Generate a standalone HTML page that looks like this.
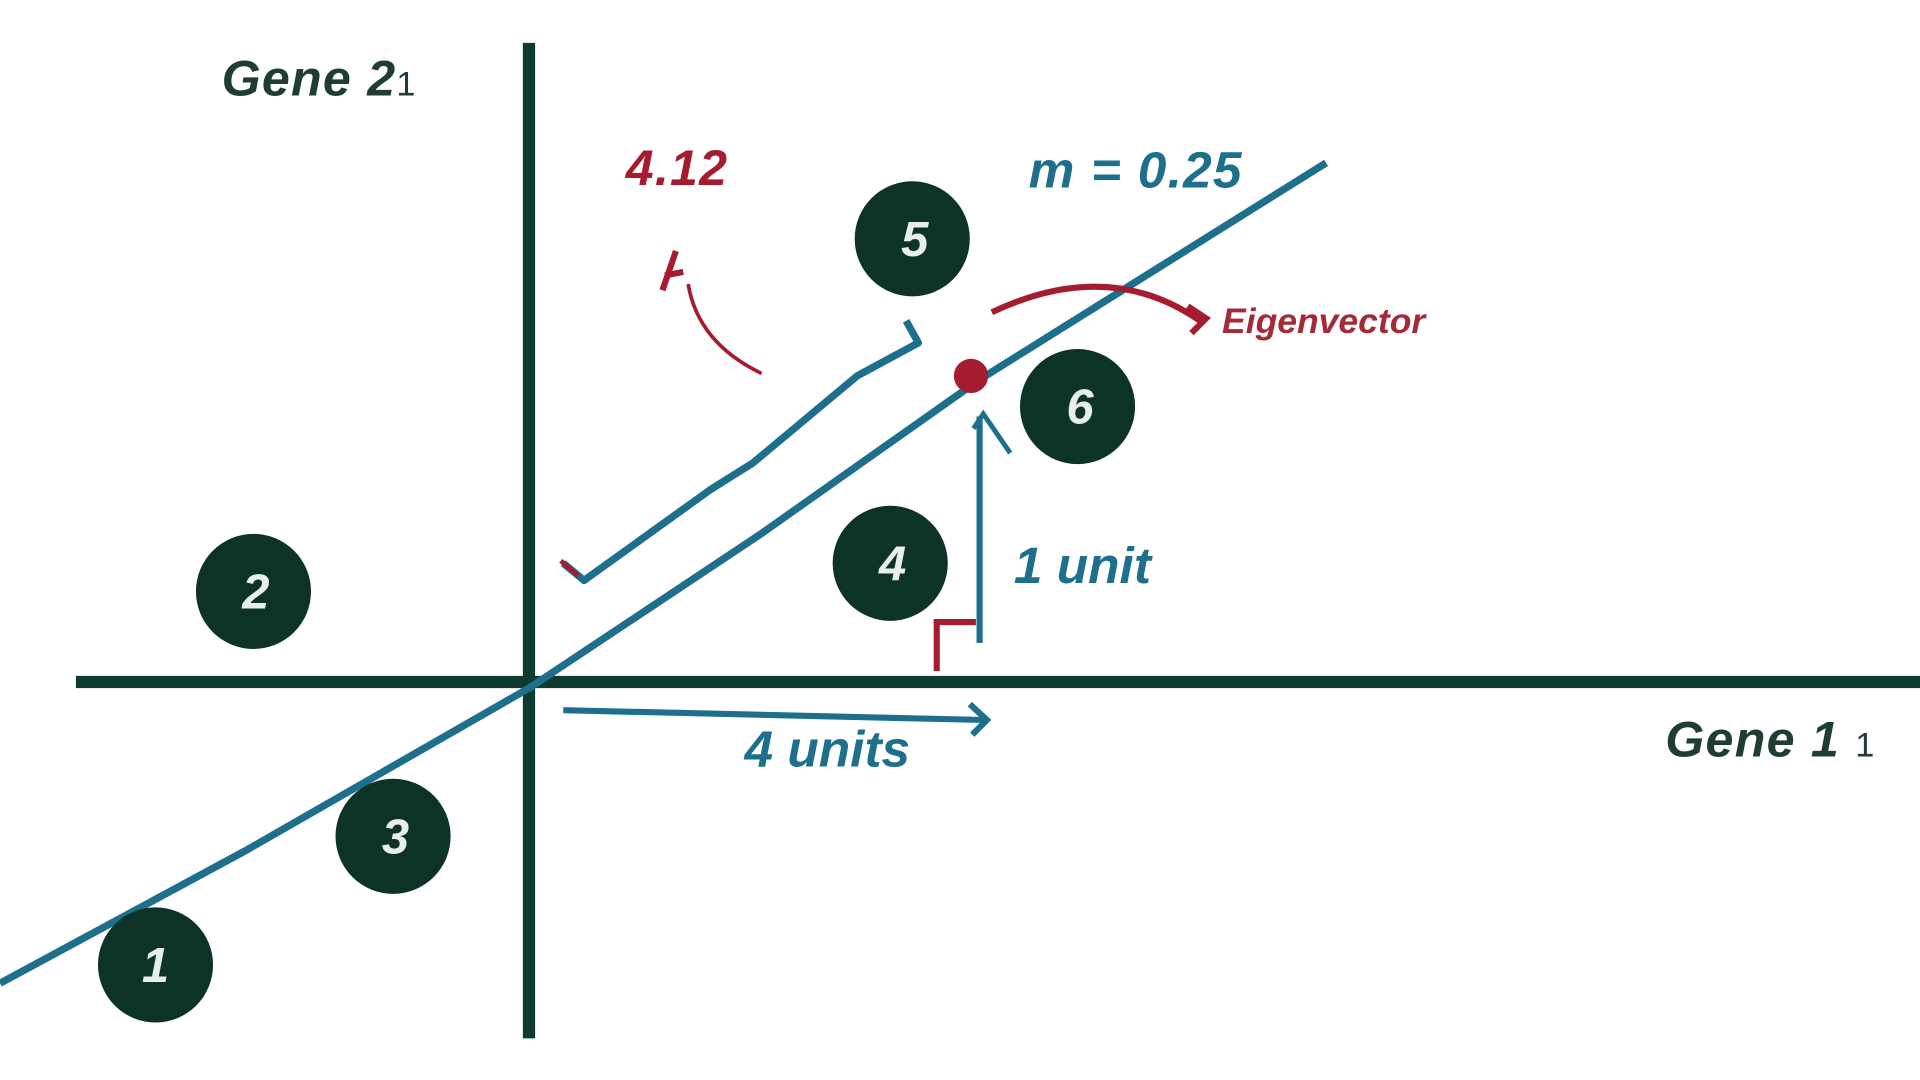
<!DOCTYPE html>
<html><head><meta charset="utf-8"><style>
html,body{margin:0;padding:0;background:#fff;width:1920px;height:1080px;overflow:hidden}
svg{display:block}
text{font-family:"Liberation Sans",sans-serif;font-weight:bold;font-style:italic}
</style></head><body>
<svg width="1920" height="1080" viewBox="0 0 1568 882" preserveAspectRatio="none">
<rect width="1568" height="882" fill="#fff"/>
<line x1="62" y1="557" x2="1568" y2="557" stroke="#0f3a30" stroke-width="10"/>
<line x1="432" y1="35" x2="432" y2="848" stroke="#0f3a30" stroke-width="10"/>
<polyline points="0,803 200,695 432,562 620,437 800,310 1083,133" fill="none" stroke="#1d6f8b" stroke-width="6"/>
<polyline points="460,460 477,474 580,400 615,378 700,307 750,280 740,262" fill="none" stroke="#1d6f8b" stroke-width="6" stroke-linejoin="round"/>
<path d="M458,458 L472,470" stroke="#a51c30" stroke-width="4"/>
<g fill="#0d3328">
<circle cx="127" cy="788" r="47"/><circle cx="207" cy="483" r="47"/><circle cx="321" cy="683" r="47"/>
<circle cx="727" cy="460" r="47"/><circle cx="745" cy="195" r="47"/><circle cx="880" cy="332" r="47"/>
</g>
<g fill="#e8eeea" font-size="40" text-anchor="middle">
<text x="127" y="802">1</text><text x="209" y="497">2</text><text x="323" y="697">3</text>
<text x="729" y="474">4</text><text x="747" y="209">5</text><text x="882" y="346">6</text>
</g>
<circle cx="793" cy="307" r="14" fill="#a51c30"/>
<path d="M810,255 Q905,210 980,262" fill="none" stroke="#a51c30" stroke-width="5"/>
<path d="M970,250 L985,260 L973,272" fill="none" stroke="#a51c30" stroke-width="5"/>
<text x="998" y="272" font-size="29" fill="#a52a38">Eigenvector</text>
<text x="511" y="151" font-size="41" fill="#a51c30" letter-spacing="1">4.12</text>
<path d="M622,305 Q570,280 562,232" fill="none" stroke="#a51c30" stroke-width="3"/>
<path d="M552,205 L541,237 M543,225 L558,222" fill="none" stroke="#a51c30" stroke-width="5"/>
<text x="840" y="153" font-size="42" fill="#1d6f8b" letter-spacing="1">m = 0.25</text>
<path d="M800,525 L800,340" stroke="#1d6f8b" stroke-width="5" fill="none"/>
<path d="M795,350 L803,338 L825,370" stroke="#1d6f8b" stroke-width="4" fill="none"/>
<path d="M765,548 L765,508 L797,508" stroke="#a51c30" stroke-width="5" fill="none"/>
<text x="828" y="476" font-size="42" fill="#1d6f8b">1 unit</text>
<path d="M460,580 L805,588" stroke="#1d6f8b" stroke-width="5" fill="none"/>
<path d="M792,575 L806,588 L794,600" stroke="#1d6f8b" stroke-width="5" fill="none"/>
<text x="608" y="626" font-size="42" fill="#1d6f8b">4 units</text>
<text x="181" y="78" font-size="41" fill="#1f3d35" letter-spacing="1">Gene 2<tspan font-size="28" font-style="normal" font-weight="normal" letter-spacing="0">1</tspan></text>
<text x="1360" y="618" font-size="41" fill="#1f3d35" letter-spacing="1">Gene 1 <tspan font-size="28" font-style="normal" font-weight="normal" letter-spacing="0">1</tspan></text>
</svg>
</body></html>
